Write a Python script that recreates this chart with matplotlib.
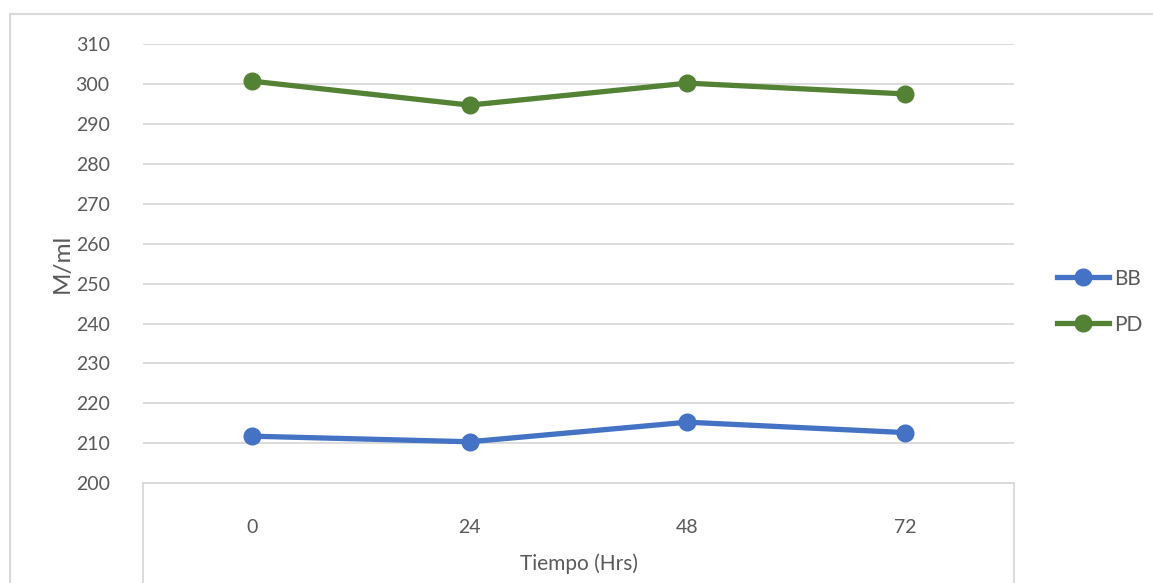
import numpy as np
import matplotlib.pyplot as plt
from matplotlib.lines import Line2D

# data
tiempo = ['0', '24', '48', '72']
bb = [211.8, 210.4, 215.3, 212.7]
pd_vals = [300.7, 294.7, 300.2, 297.5]

plt.rcParams['font.family'] = ['Lato', 'DejaVu Sans']

grid_col = '#d9d9d9'
text_col = '#595959'

fig = plt.figure(figsize=(11.53, 5.83), dpi=100)
ax = fig.add_axes([143/1153, 1 - 483.3/583, (1014 - 143)/1153, (483.3 - 44)/583])

x = np.arange(len(tiempo))
ax.plot(x, bb, color='#4472C4', lw=3.8, marker='o', ms=12, label='BB', zorder=3)
ax.plot(x, pd_vals, color='#548235', lw=3.8, marker='o', ms=12, label='PD', zorder=3)

ax.set_xlim(-0.5, 3.5)
ax.set_ylim(200, 310)
ax.set_yticks(np.arange(200, 311, 10))
ax.set_xticks(x)
ax.set_xticklabels(tiempo)
ax.yaxis.grid(True, color=grid_col, lw=1.3)
ax.set_axisbelow(True)
for s in ax.spines.values():
    s.set_visible(False)
ax.tick_params(axis='both', length=0, labelsize=14, colors=text_col)
ax.tick_params(axis='y', pad=24)
ax.tick_params(axis='x', pad=26)

ax.set_ylabel('M/ml', fontsize=17.5, color=text_col, labelpad=2)
ax.set_xlabel('Tiempo (Hrs)', fontsize=15, color=text_col, labelpad=12)

# box around the category axis area
for xa in (0, 1):
    ax.add_line(Line2D([xa, xa], [0, -0.3], transform=ax.transAxes,
                       color=grid_col, lw=1.3, clip_on=False))
ax.add_line(Line2D([0, 1], [0, 0], transform=ax.transAxes,
                   color=grid_col, lw=1.3, clip_on=False))

# outer chart border (partly cut off)
fig.add_artist(Line2D([10/1153, 10/1153], [0, 1 - 14/583], color=grid_col, lw=1.5))
fig.add_artist(Line2D([10/1153, 1], [1 - 14/583, 1 - 14/583], color=grid_col, lw=1.5))

leg = ax.legend(loc='upper left', bbox_to_anchor=(1038/1153, 1 - 250/583),
                bbox_transform=fig.transFigure, frameon=False, fontsize=15,
                handlelength=2.5, handletextpad=0.25, labelspacing=1.25,
                labelcolor=text_col)

fig.savefig('out.png', dpi=100)
